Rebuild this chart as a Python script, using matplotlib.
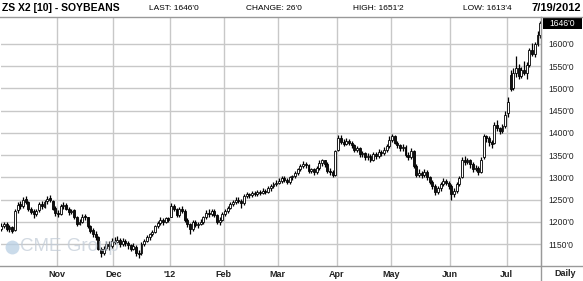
import matplotlib
matplotlib.use('Agg')
import matplotlib.pyplot as plt
from matplotlib.patches import Rectangle

plt.rcParams['font.family'] = ['Liberation Sans', 'DejaVu Sans']

# daily bars (open, high, low, close), one list per month, Oct 2011 - Jul 2012
bars_oct = [
    (1185, 1198, 1180, 1190), (1190, 1200, 1186, 1195), (1196, 1199, 1180, 1185),
    (1184, 1192, 1178, 1188), (1188, 1190, 1176, 1180), (1182, 1230, 1180, 1225),
    (1226, 1244, 1220, 1238), (1240, 1246, 1230, 1235), (1236, 1256, 1232, 1250),
    (1252, 1258, 1240, 1245), (1244, 1248, 1224, 1228), (1228, 1234, 1218, 1222),
    (1224, 1228, 1208, 1218), (1218, 1230, 1214, 1225), (1226, 1244, 1222, 1240),
    (1241, 1246, 1230, 1235), (1234, 1250, 1232, 1245), (1246, 1258, 1240, 1252),
    (1254, 1260, 1244, 1250), (1248, 1250, 1226, 1230), (1232, 1236, 1214, 1220),
]
bars_nov = [
    (1220, 1226, 1210, 1218), (1218, 1240, 1215, 1235), (1236, 1244, 1230, 1238),
    (1239, 1242, 1226, 1230), (1230, 1234, 1216, 1222), (1222, 1230, 1218, 1225),
    (1226, 1228, 1206, 1210), (1210, 1214, 1190, 1195), (1196, 1206, 1192, 1200),
    (1200, 1218, 1198, 1212), (1214, 1218, 1204, 1210), (1210, 1212, 1186, 1190),
    (1190, 1194, 1174, 1180), (1182, 1186, 1166, 1172), (1172, 1180, 1160, 1165),
    (1165, 1168, 1136, 1140), (1140, 1144, 1122, 1130), (1130, 1146, 1126, 1140),
    (1141, 1158, 1136, 1150), (1150, 1156, 1138, 1145), (1146, 1164, 1142, 1158),
]
bars_dec = [
    (1158, 1166, 1150, 1155), (1155, 1168, 1152, 1160), (1160, 1164, 1144, 1150),
    (1150, 1164, 1146, 1158), (1158, 1162, 1146, 1152), (1152, 1156, 1140, 1148),
    (1148, 1150, 1134, 1140), (1140, 1152, 1136, 1145), (1144, 1148, 1124, 1130),
    (1130, 1136, 1120, 1128), (1130, 1154, 1126, 1150), (1150, 1162, 1146, 1158),
    (1158, 1170, 1154, 1165), (1165, 1176, 1160, 1172), (1172, 1182, 1168, 1178),
    (1178, 1194, 1174, 1190), (1190, 1202, 1186, 1198), (1198, 1210, 1194, 1205),
    (1205, 1208, 1194, 1200), (1200, 1212, 1198, 1208), (1208, 1210, 1200, 1205),
]
bars_jan = [
    (1212, 1242, 1210, 1235), (1236, 1240, 1224, 1228), (1228, 1232, 1210, 1215),
    (1215, 1234, 1212, 1230), (1230, 1236, 1220, 1225), (1224, 1228, 1200, 1205),
    (1205, 1208, 1188, 1195), (1195, 1198, 1172, 1185), (1185, 1204, 1180, 1200),
    (1200, 1204, 1188, 1192), (1192, 1200, 1186, 1195), (1195, 1206, 1192, 1200),
    (1200, 1214, 1196, 1210), (1210, 1226, 1206, 1220), (1220, 1228, 1212, 1218),
    (1218, 1230, 1214, 1225), (1225, 1228, 1210, 1215), (1215, 1218, 1196, 1200),
    (1200, 1210, 1194, 1205), (1205, 1222, 1202, 1218),
]
bars_feb = [
    (1218, 1230, 1214, 1225), (1225, 1236, 1220, 1232), (1232, 1244, 1228, 1240),
    (1240, 1250, 1236, 1245), (1245, 1256, 1240, 1250), (1250, 1256, 1242, 1248),
    (1248, 1252, 1232, 1242), (1242, 1262, 1238, 1258), (1258, 1268, 1254, 1262),
    (1262, 1266, 1254, 1260), (1260, 1270, 1256, 1265), (1265, 1270, 1258, 1262),
    (1262, 1272, 1258, 1268), (1268, 1272, 1260, 1265), (1265, 1276, 1262, 1270),
    (1270, 1274, 1262, 1268), (1268, 1280, 1264, 1275), (1275, 1285, 1270, 1280),
    (1280, 1290, 1276, 1285), (1285, 1294, 1280, 1288),
]
bars_mar = [
    (1288, 1298, 1284, 1292), (1292, 1302, 1288, 1298), (1298, 1302, 1290, 1295),
    (1295, 1298, 1284, 1290), (1290, 1304, 1286, 1300), (1300, 1306, 1294, 1302),
    (1302, 1314, 1298, 1310), (1310, 1322, 1306, 1318), (1318, 1330, 1314, 1325),
    (1325, 1336, 1320, 1330), (1330, 1334, 1322, 1328), (1328, 1330, 1310, 1315),
    (1315, 1322, 1310, 1318), (1318, 1322, 1306, 1312), (1312, 1326, 1308, 1320),
    (1320, 1338, 1316, 1332), (1332, 1342, 1326, 1338), (1338, 1340, 1324, 1330),
    (1330, 1334, 1310, 1315), (1315, 1322, 1306, 1312), (1312, 1316, 1300, 1305),
    (1306, 1362, 1302, 1360),
]
bars_apr = [
    (1362, 1396, 1360, 1388), (1388, 1394, 1376, 1380), (1380, 1386, 1370, 1375),
    (1375, 1388, 1372, 1382), (1382, 1386, 1372, 1378), (1378, 1382, 1366, 1372),
    (1372, 1376, 1356, 1362), (1362, 1370, 1356, 1365), (1365, 1368, 1346, 1352),
    (1352, 1360, 1346, 1355), (1355, 1358, 1340, 1345), (1345, 1354, 1340, 1348),
    (1348, 1352, 1334, 1340), (1340, 1358, 1336, 1352), (1352, 1356, 1342, 1348),
    (1348, 1364, 1344, 1358), (1358, 1362, 1348, 1355), (1355, 1368, 1350, 1362),
    (1362, 1376, 1358, 1370), (1370, 1392, 1366, 1385),
]
bars_may = [
    (1385, 1398, 1380, 1392), (1392, 1395, 1374, 1378), (1378, 1382, 1366, 1372),
    (1372, 1376, 1360, 1365), (1365, 1374, 1360, 1368), (1368, 1372, 1346, 1350),
    (1350, 1356, 1340, 1345), (1345, 1366, 1342, 1360), (1360, 1362, 1320, 1325),
    (1325, 1330, 1300, 1305), (1305, 1318, 1300, 1310), (1310, 1314, 1298, 1305),
    (1305, 1318, 1300, 1312), (1312, 1316, 1294, 1300), (1300, 1304, 1284, 1290),
    (1290, 1294, 1274, 1280), (1280, 1284, 1260, 1268), (1268, 1280, 1262, 1275),
    (1275, 1290, 1270, 1285), (1285, 1298, 1280, 1292), (1292, 1296, 1282, 1288),
    (1288, 1292, 1274, 1280),
]
bars_jun = [
    (1280, 1284, 1250, 1262), (1262, 1276, 1256, 1270), (1270, 1290, 1266, 1285),
    (1285, 1304, 1280, 1298), (1300, 1345, 1298, 1340), (1340, 1348, 1328, 1335),
    (1335, 1344, 1330, 1338), (1338, 1342, 1322, 1330), (1330, 1334, 1312, 1318),
    (1318, 1328, 1314, 1322), (1322, 1326, 1306, 1312), (1312, 1346, 1310, 1340),
    (1345, 1398, 1342, 1392), (1392, 1396, 1380, 1388), (1388, 1392, 1370, 1380),
    (1380, 1384, 1366, 1375), (1378, 1425, 1375, 1418), (1418, 1428, 1404, 1410),
    (1410, 1414, 1398, 1405), (1405, 1420, 1400, 1415), (1415, 1448, 1410, 1440),
]
bars_jul = [
    (1445, 1480, 1436, 1470), (1530, 1540, 1494, 1498), (1500, 1545, 1496, 1535),
    (1535, 1572, 1525, 1545), (1545, 1555, 1520, 1528), (1528, 1548, 1522, 1540),
    (1540, 1562, 1530, 1535), (1535, 1560, 1520, 1552), (1552, 1590, 1548, 1585),
    (1585, 1602, 1572, 1578), (1578, 1605, 1570, 1600), (1600, 1628, 1595, 1620),
    (1620, 1651, 1613, 1646),
]

months = [bars_oct, bars_nov, bars_dec, bars_jan, bars_feb, bars_mar,
          bars_apr, bars_may, bars_jun, bars_jul]
month_labels = ['', 'Nov', 'Dec', "'12", 'Feb', 'Mar', 'Apr', 'May', 'Jun', 'Jul']
price_ticks = [1150, 1200, 1250, 1300, 1350, 1400, 1450, 1500, 1550, 1600]
last_price = 1646

bars = [b for m in months for b in m]
month_starts = []
n = 0
for m in months:
    month_starts.append(n)
    n += len(m)

fig = plt.figure(figsize=(5.83, 2.81), dpi=100)
ax = fig.add_axes([0.0017, 0.0534, 0.9263, 0.886])
ax.set_xlim(-0.15, len(bars) - 0.7)
ax.set_ylim(1101, 1660)

# grid
for p in price_ticks:
    ax.axhline(p, color='#c8c8c8', lw=1.0, zorder=0)
for s in month_starts[1:]:
    ax.axvline(s - 0.5, color='#c8c8c8', lw=1.0, zorder=0)

# candles
for i, (o, h, l, c) in enumerate(bars):
    ax.vlines(i, l, h, color='black', lw=0.9, zorder=2)
    up = c >= o
    ax.bar(i, max(abs(c - o), 1.5), bottom=min(o, c), width=0.72,
           color='white' if up else '#111111', edgecolor='black', lw=0.6, zorder=3)

# watermark, drawn faintly over the bars
ax.plot([0.021], [0.077], 'o', transform=ax.transAxes, ms=10,
        color='#b9cfe4', alpha=0.75, mec='none', zorder=5)
ax.text(0.036, 0.077, 'CME Group', transform=ax.transAxes, fontsize=13.5,
        color='#c3cdd8', alpha=0.75, va='center', ha='left', zorder=5)

ax.set_xticks([s - 0.5 for s in month_starts[1:]])
ax.set_xticklabels(month_labels[1:], fontsize=6.5, fontweight='bold', color='#222222')
ax.tick_params(axis='x', length=0, pad=3)
ax.yaxis.tick_right()
ax.set_yticks(price_ticks)
ax.set_yticklabels(["%d'0" % p for p in price_ticks], fontsize=6.2, color='#222222')
ax.tick_params(axis='y', length=0, pad=5)
for sp in ['top', 'left', 'bottom']:
    ax.spines[sp].set_visible(False)
ax.spines['right'].set_color('#999999')

# frame lines across the whole figure
fig.add_artist(plt.Line2D([0, 1], [1 - 17 / 281, 1 - 17 / 281], color='#999999', lw=1))
fig.add_artist(plt.Line2D([0, 1], [1 - 266 / 281, 1 - 266 / 281], color='#999999', lw=1))
fig.add_artist(plt.Line2D([541 / 583, 541 / 583], [1 - 17 / 281, 0], color='#999999', lw=1))

fig.text(565 / 583, 1 - 273 / 281, 'Daily', fontsize=6.5, fontweight='bold',
         color='#222222', ha='center', va='center')

# last price box
fig.patches.append(Rectangle((543 / 583, 1 - 29 / 281), 39 / 583, 11 / 281,
                             transform=fig.transFigure, facecolor='black',
                             edgecolor='none'))
fig.text(562 / 583, 1 - 23.5 / 281, "%d'0" % last_price, fontsize=6.2, color='white',
         ha='center', va='center')

# header row
y_head = 1 - 8 / 281
fig.text(2 / 583, y_head, 'ZS X2 [10] - SOYBEANS', fontsize=7.5, fontweight='bold',
         ha='left', va='center')
fig.text(149 / 583, y_head, "LAST: 1646'0", fontsize=6, ha='left', va='center')
fig.text(246 / 583, y_head, "CHANGE: 26'0", fontsize=6, ha='left', va='center')
fig.text(353 / 583, y_head, "HIGH: 1651'2", fontsize=6, ha='left', va='center')
fig.text(463 / 583, y_head, "LOW: 1613'4", fontsize=6, ha='left', va='center')
fig.text(581 / 583, y_head, '7/19/2012', fontsize=8, fontweight='bold',
         ha='right', va='center')

fig.savefig('out.png', dpi=100)
